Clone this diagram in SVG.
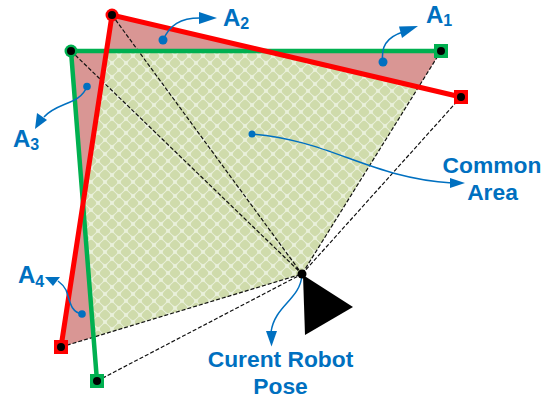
<svg xmlns="http://www.w3.org/2000/svg" width="543" height="401" viewBox="0 0 543 401">
<style>
.dash{fill:none;stroke:#111;stroke-width:1.2;stroke-dasharray:4 2}
.red{fill:none;stroke:#f00;stroke-width:5}
.green{fill:none;stroke:#00b050;stroke-width:4.500}
.lead{fill:none;stroke:#0070c0;stroke-width:1.5}
.head{fill:#0070c0}
.t{font-family:"Liberation Sans",Arial,sans-serif;font-weight:bold;font-size:22.8px;fill:#0070c0}
.a{font-size:24px}
.s{font-size:16px}
.m{text-anchor:middle}
.blob{fill:#cfdbab}
</style>
<defs>
<pattern id="lat" width="14" height="14" patternUnits="userSpaceOnUse">
<rect width="14" height="14" fill="#e9f0da"/>
<rect class="blob" x="2.500" y="2.500" width="9" height="9" rx="3.200" transform="rotate(45 7 7)"/>
<rect class="blob" x="-4.500" y="-4.500" width="9" height="9" rx="3.200" transform="rotate(45 0 0)"/>
<rect class="blob" x="9.500" y="-4.500" width="9" height="9" rx="3.200" transform="rotate(45 14 0)"/>
<rect class="blob" x="-4.500" y="9.500" width="9" height="9" rx="3.200" transform="rotate(45 0 14)"/>
<rect class="blob" x="9.500" y="9.500" width="9" height="9" rx="3.200" transform="rotate(45 14 14)"/>
</pattern>
</defs>
<g id="areas">
<polygon points="112,15 265,51 106.500,51" fill="#d99694"/>
<polygon points="265,51 441,51 418.500,87" fill="#d99694"/>
<polygon points="71,51 106.500,51 83,204" fill="#d99694"/>
<polygon points="83,204 93.500,337 61,347" fill="#d99694"/>
<polygon points="106.500,51 265,51 418.500,87 302,274 93.500,337 83,204" fill="url(#lat)"/>
</g>
<g id="connectors">
<path class="dash" d="M112 15L302 274M71 51L302 274M441 51L302 274M461 97L302 274M61 347L302 274M97 381L302 274"/>
<path class="green" d="M97 381L71 51L441 51"/>
<path class="red" d="M61 347L112 15L461 97"/>
<path class="lead" d="M383 62C380 45 390 36 403 32"/>
<polygon class="head" points="418,26 399,26.500 402,38"/>
<path class="lead" d="M163 40C170 25 180 18 200 18"/>
<polygon class="head" points="217,18 199,12 199,24"/>
<path class="lead" d="M87 86.500C80 105 57 102 44 117"/>
<polygon class="head" points="35,129 37,113 47,120"/>
<path class="lead" d="M82 314C70 312 70 300 66 290C64 286 62 284 58 281"/>
<polygon class="head" points="45,277 60,277 53,286"/>
<path class="lead" d="M302 275C300 300 275 305 271 332"/>
<polygon class="head" points="271.500,346.500 266,331 277,331"/>
<path class="lead" d="M252 134C330 140 370 178 452 183"/>
<polygon class="head" points="465,183 450,178 450,188"/>
</g>
<g id="robot">
<polygon points="303,275 353,307 305,335" fill="#000"/>
<circle cx="302" cy="274" r="4.500" fill="#000"/>
</g>
<g id="dots">
<circle cx="252" cy="134" r="3.500" class="head"/>
<circle cx="383" cy="62" r="4.500" class="head"/>
<circle cx="163" cy="40" r="4.500" class="head"/>
<circle cx="87" cy="86.500" r="3.800" class="head"/>
<circle cx="82" cy="314" r="3.800" class="head"/>
</g>
<g id="p1"><circle cx="112" cy="15" r="6.500" fill="#f00"/><circle cx="112" cy="15" r="4" fill="#000"/></g>
<g id="p2"><rect x="454" y="90" width="14" height="14" fill="#f00"/><circle cx="461" cy="97" r="4" fill="#000"/></g>
<g id="p3"><rect x="54" y="340" width="14" height="14" fill="#f00"/><circle cx="61" cy="347" r="4" fill="#000"/></g>
<g id="p4"><circle cx="71" cy="51" r="6.500" fill="#00b050"/><circle cx="71" cy="51" r="4" fill="#000"/></g>
<g id="p5"><rect x="434" y="44" width="14" height="14" fill="#00b050"/><circle cx="441" cy="51" r="4" fill="#000"/></g>
<g id="p6"><rect x="90" y="374" width="14" height="14" fill="#00b050"/><circle cx="97" cy="381" r="4" fill="#000"/></g>
<g id="labels">
<text class="t a" x="426" y="22.500">A<tspan class="s" dy="3">1</tspan></text>
<text class="t a" x="223" y="26">A<tspan class="s" dy="3">2</tspan></text>
<text class="t a" x="13" y="147">A<tspan class="s" dy="3">3</tspan></text>
<text class="t a" x="18" y="283">A<tspan class="s" dy="4">4</tspan></text>
<text class="t m" x="492" y="172.500">Common</text>
<text class="t m" x="492.500" y="200">Area</text>
<text class="t m" x="280.500" y="367">Curent Robot</text>
<text class="t m" x="280.500" y="394">Pose</text>
</g>
</svg>
